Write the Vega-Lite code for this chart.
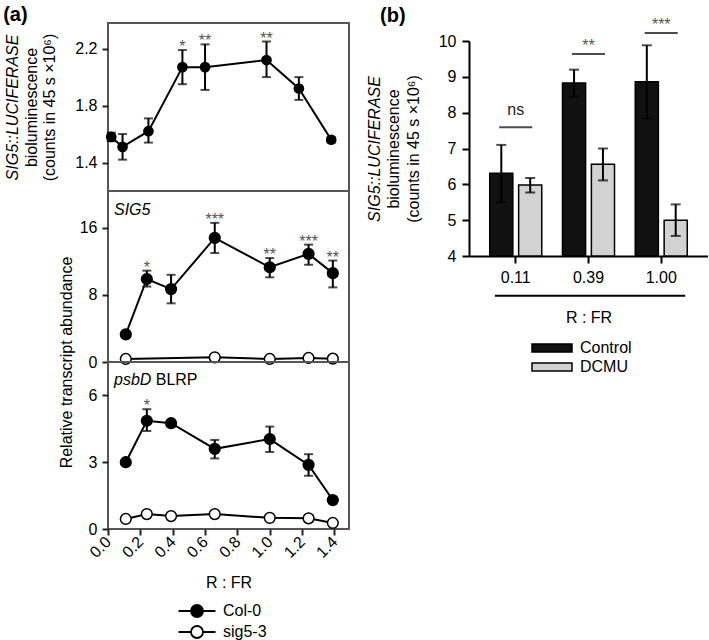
{
  "$schema": "https://vega.github.io/schema/vega-lite/v6.json",
  "padding": {"left": 2, "top": 4, "right": 0, "bottom": 0},
  "config": {
    "font": "Liberation Sans",
    "view": {"stroke": "#555555", "strokeWidth": 2},
    "axis": {"labelFontSize": 16, "titleFontSize": 16, "titleFontWeight": "normal", "labelColor": "black", "titleColor": "black", "tickColor": "#222222", "domainColor": "black", "grid": false, "labelFont": "Liberation Sans", "titleFont": "Liberation Sans", "tickWidth": 2, "domainWidth": 2, "labelOverlap": false},
    "legend": {"labelFontSize": 16, "labelFont": "Liberation Sans", "labelColor": "black"},
    "title": {"font": "Liberation Sans", "color": "black"}
  },
  "datasets": {
    "p1": [
      {"x": 0.02, "m": 1.58, "lo": 1.55, "hi": 1.61},
      {"x": 0.09, "m": 1.51, "lo": 1.42, "hi": 1.60},
      {"x": 0.25, "m": 1.62, "lo": 1.54, "hi": 1.71},
      {"x": 0.46, "m": 2.07, "lo": 1.95, "hi": 2.19, "sig": "*"},
      {"x": 0.60, "m": 2.07, "lo": 1.91, "hi": 2.23, "sig": "**"},
      {"x": 0.98, "m": 2.12, "lo": 2.00, "hi": 2.25, "sig": "**"},
      {"x": 1.18, "m": 1.92, "lo": 1.84, "hi": 2.00},
      {"x": 1.38, "m": 1.56, "lo": 1.54, "hi": 1.58}
    ],
    "p2": [
      {"g": "Col-0", "x": 0.11, "m": 3.3, "lo": 3.0, "hi": 3.6},
      {"g": "Col-0", "x": 0.24, "m": 9.9, "lo": 9.0, "hi": 10.9, "sig": "*"},
      {"g": "Col-0", "x": 0.39, "m": 8.7, "lo": 7.0, "hi": 10.4},
      {"g": "Col-0", "x": 0.66, "m": 14.8, "lo": 13.0, "hi": 16.6, "sig": "***"},
      {"g": "Col-0", "x": 1.00, "m": 11.3, "lo": 10.1, "hi": 12.4, "sig": "**"},
      {"g": "Col-0", "x": 1.24, "m": 12.9, "lo": 11.6, "hi": 14.0, "sig": "***"},
      {"g": "Col-0", "x": 1.39, "m": 10.6, "lo": 8.9, "hi": 12.1, "sig": "**"},
      {"g": "sig5-3", "x": 0.11, "m": 0.36},
      {"g": "sig5-3", "x": 0.66, "m": 0.56},
      {"g": "sig5-3", "x": 1.00, "m": 0.36},
      {"g": "sig5-3", "x": 1.24, "m": 0.48},
      {"g": "sig5-3", "x": 1.39, "m": 0.40}
    ],
    "p3": [
      {"g": "Col-0", "x": 0.11, "m": 3.0, "lo": 2.9, "hi": 3.1},
      {"g": "Col-0", "x": 0.24, "m": 4.86, "lo": 4.4, "hi": 5.38, "sig": "*"},
      {"g": "Col-0", "x": 0.39, "m": 4.75, "lo": 4.6, "hi": 4.9},
      {"g": "Col-0", "x": 0.66, "m": 3.6, "lo": 3.17, "hi": 4.0},
      {"g": "Col-0", "x": 1.00, "m": 4.04, "lo": 3.46, "hi": 4.6},
      {"g": "Col-0", "x": 1.24, "m": 2.88, "lo": 2.39, "hi": 3.36},
      {"g": "Col-0", "x": 1.39, "m": 1.3, "lo": 1.25, "hi": 1.35},
      {"g": "sig5-3", "x": 0.11, "m": 0.45},
      {"g": "sig5-3", "x": 0.24, "m": 0.67},
      {"g": "sig5-3", "x": 0.39, "m": 0.58},
      {"g": "sig5-3", "x": 0.66, "m": 0.67},
      {"g": "sig5-3", "x": 1.00, "m": 0.50},
      {"g": "sig5-3", "x": 1.24, "m": 0.48},
      {"g": "sig5-3", "x": 1.39, "m": 0.27}
    ],
    "bars": [
      {"R": "0.11", "trt": "Control", "m": 6.31, "lo": 5.5, "hi": 7.1},
      {"R": "0.11", "trt": "DCMU", "m": 5.98, "lo": 5.77, "hi": 6.18},
      {"R": "0.39", "trt": "Control", "m": 8.83, "lo": 8.45, "hi": 9.2},
      {"R": "0.39", "trt": "DCMU", "m": 6.56, "lo": 6.11, "hi": 7.0},
      {"R": "1.00", "trt": "Control", "m": 8.86, "lo": 7.84, "hi": 9.88},
      {"R": "1.00", "trt": "DCMU", "m": 5.0, "lo": 4.56, "hi": 5.44}
    ],
    "sigb": [
      {"R": "0.11", "ly": 7.59, "lab": "ns"},
      {"R": "0.39", "ly": 9.64, "lab": "**"},
      {"R": "1.00", "ly": 10.22, "lab": "***"}
    ]
  },
  "spacing": 15,
  "resolve": {"scale": {"color": "independent", "fill": "independent"}, "legend": {"color": "independent", "fill": "independent"}},
  "hconcat": [
    {
      "spacing": 0,
      "bounds": "flush",
      "resolve": {"legend": {"fill": "independent"}},
      "vconcat": [
        {
          "width": 241, "height": 168,
          "data": {"name": "p1"},
          "layer": [
            {"mark": {"type": "line", "color": "black", "strokeWidth": 2},
             "encoding": {
               "x": {"field": "x", "type": "quantitative", "scale": {"domain": [0, 1.49], "nice": false, "zero": false}, "axis": null},
               "y": {"field": "m", "type": "quantitative", "scale": {"domain": [1.2, 2.38], "nice": false, "zero": false},
               "axis": {"values": [1.4, 1.8, 2.2], "format": ".1f", "domain": false, "tickSize": 6, "labelPadding": 5, "title": ["bioluminescence", "(counts in 45 s ×10⁶)"], "titleX": -77, "titleY": 84, "titleAngle": -90, "titleAlign": "center", "titleBaseline": "middle", "titleLineHeight": 18}}}},
            {"mark": {"type": "rule", "color": "black", "strokeWidth": 2},
             "encoding": {"x": {"field": "x", "type": "quantitative"}, "y": {"field": "lo", "type": "quantitative", "axis": null}, "y2": {"field": "hi"}}},
            {"mark": {"type": "tick", "orient": "horizontal", "color": "black", "size": 9, "thickness": 2},
             "encoding": {"x": {"field": "x", "type": "quantitative"}, "y": {"field": "lo", "type": "quantitative", "axis": null}}},
            {"mark": {"type": "tick", "orient": "horizontal", "color": "black", "size": 9, "thickness": 2},
             "encoding": {"x": {"field": "x", "type": "quantitative"}, "y": {"field": "hi", "type": "quantitative", "axis": null}}},
            {"mark": {"type": "point", "filled": true, "color": "black", "size": 115, "opacity": 1},
             "encoding": {"x": {"field": "x", "type": "quantitative"}, "y": {"field": "m", "type": "quantitative", "axis": null}}},
            {"transform": [{"filter": "datum.sig"}],
             "mark": {"type": "text", "color": "#555555", "fontSize": 16, "baseline": "alphabetic", "dy": 2},
             "encoding": {"x": {"field": "x", "type": "quantitative"}, "y": {"field": "hi", "type": "quantitative",
               "axis": {"orient": "left", "title": "SIG5::LUCIFERASE", "titleFontStyle": "italic", "labels": false, "ticks": false, "domain": false, "titleX": -96, "titleY": 84, "titleAngle": -90, "titleAlign": "center", "titleBaseline": "middle"}},
               "text": {"field": "sig"}}},
            {"data": {"values": [{}]},
             "mark": {"type": "text", "text": "(a)", "fontSize": 20, "fontWeight": "bold", "align": "left", "baseline": "alphabetic", "clip": false},
             "encoding": {"x": {"datum": -0.648}, "y": {"datum": 2.394, "axis": null}}}
          ],
          "resolve": {"axis": {"y": "independent"}}
        },
        {
          "width": 241, "height": 171,
          "data": {"name": "p2"},
          "layer": [
            {"mark": {"type": "line", "color": "black", "strokeWidth": 2},
             "encoding": {"detail": {"field": "g"},
               "x": {"field": "x", "type": "quantitative", "scale": {"domain": [0, 1.49], "nice": false, "zero": false}, "axis": null},
               "y": {"field": "m", "type": "quantitative", "scale": {"domain": [0, 20.4], "nice": false, "zero": false},
               "axis": {"values": [0, 8, 16], "domain": false, "tickSize": 6, "labelPadding": 5, "title": null}}}},
            {"mark": {"type": "rule", "color": "black", "strokeWidth": 2},
             "encoding": {"x": {"field": "x", "type": "quantitative"}, "y": {"field": "lo", "type": "quantitative"}, "y2": {"field": "hi"}}},
            {"mark": {"type": "tick", "orient": "horizontal", "color": "black", "size": 9, "thickness": 2},
             "encoding": {"x": {"field": "x", "type": "quantitative"}, "y": {"field": "lo", "type": "quantitative"}}},
            {"mark": {"type": "tick", "orient": "horizontal", "color": "black", "size": 9, "thickness": 2},
             "encoding": {"x": {"field": "x", "type": "quantitative"}, "y": {"field": "hi", "type": "quantitative"}}},
            {"mark": {"type": "point", "stroke": "black", "strokeWidth": 1.5, "size": 115, "opacity": 1},
             "encoding": {"x": {"field": "x", "type": "quantitative"}, "y": {"field": "m", "type": "quantitative"},
               "fill": {"field": "g", "type": "nominal", "scale": {"domain": ["Col-0", "sig5-3"], "range": ["black", "white"]}, "legend": null}}},
            {"transform": [{"filter": "datum.sig"}],
             "mark": {"type": "text", "color": "#555555", "fontSize": 16, "baseline": "alphabetic", "dy": 2},
             "encoding": {"x": {"field": "x", "type": "quantitative"}, "y": {"field": "hi", "type": "quantitative"}, "text": {"field": "sig"}}},
            {"data": {"values": [{}]},
             "mark": {"type": "text", "text": "SIG5", "fontStyle": "italic", "fontSize": 16, "align": "left", "baseline": "alphabetic"},
             "encoding": {"x": {"datum": 0.037}, "y": {"datum": 17.48}}}
          ]
        },
        {
          "width": 241, "height": 167,
          "data": {"name": "p3"},
          "layer": [
            {"mark": {"type": "line", "color": "black", "strokeWidth": 2},
             "encoding": {"detail": {"field": "g"},
               "x": {"field": "x", "type": "quantitative", "scale": {"domain": [0, 1.49], "nice": false, "zero": false},
                 "axis": {"values": [0, 0.2, 0.4, 0.6, 0.8, 1.0, 1.2, 1.4], "format": ".1f", "domain": false, "tickSize": 6, "labelPadding": 4, "labelAngle": -45, "labelAlign": "right", "labelBaseline": "middle", "labelOverlap": false, "labelBound": false, "labelFlush": false, "title": "R : FR", "titleY": 53, "titleBaseline": "middle"}},
               "y": {"field": "m", "type": "quantitative", "scale": {"domain": [0, 7.5], "nice": false, "zero": false},
               "axis": {"values": [0, 3, 6], "domain": false, "tickSize": 6, "labelPadding": 5, "title": "Relative transcript abundance", "titleX": -41.5, "titleY": 0, "titleAngle": -90, "titleAlign": "center", "titleBaseline": "middle"}}}},
            {"mark": {"type": "rule", "color": "black", "strokeWidth": 2},
             "encoding": {"x": {"field": "x", "type": "quantitative", "axis": {"values": [0, 0.2, 0.4, 0.6, 0.8, 1.0, 1.2, 1.4], "format": ".1f", "domain": false, "tickSize": 6, "labelPadding": 4, "labelAngle": -45, "labelAlign": "right", "labelBaseline": "middle", "labelOverlap": false, "labelBound": false, "labelFlush": false, "title": "R : FR", "titleY": 53, "titleBaseline": "middle"}}, "y": {"field": "lo", "type": "quantitative"}, "y2": {"field": "hi"}}},
            {"mark": {"type": "tick", "orient": "horizontal", "color": "black", "size": 9, "thickness": 2},
             "encoding": {"x": {"field": "x", "type": "quantitative", "axis": {"values": [0, 0.2, 0.4, 0.6, 0.8, 1.0, 1.2, 1.4], "format": ".1f", "domain": false, "tickSize": 6, "labelPadding": 4, "labelAngle": -45, "labelAlign": "right", "labelBaseline": "middle", "labelOverlap": false, "labelBound": false, "labelFlush": false, "title": "R : FR", "titleY": 53, "titleBaseline": "middle"}}, "y": {"field": "lo", "type": "quantitative"}}},
            {"mark": {"type": "tick", "orient": "horizontal", "color": "black", "size": 9, "thickness": 2},
             "encoding": {"x": {"field": "x", "type": "quantitative", "axis": {"values": [0, 0.2, 0.4, 0.6, 0.8, 1.0, 1.2, 1.4], "format": ".1f", "domain": false, "tickSize": 6, "labelPadding": 4, "labelAngle": -45, "labelAlign": "right", "labelBaseline": "middle", "labelOverlap": false, "labelBound": false, "labelFlush": false, "title": "R : FR", "titleY": 53, "titleBaseline": "middle"}}, "y": {"field": "hi", "type": "quantitative"}}},
            {"mark": {"type": "point", "stroke": "black", "strokeWidth": 1.5, "size": 115, "opacity": 1},
             "encoding": {"x": {"field": "x", "type": "quantitative", "axis": {"values": [0, 0.2, 0.4, 0.6, 0.8, 1.0, 1.2, 1.4], "format": ".1f", "domain": false, "tickSize": 6, "labelPadding": 4, "labelAngle": -45, "labelAlign": "right", "labelBaseline": "middle", "labelOverlap": false, "labelBound": false, "labelFlush": false, "title": "R : FR", "titleY": 53, "titleBaseline": "middle"}}, "y": {"field": "m", "type": "quantitative"},
               "fill": {"field": "g", "type": "nominal", "scale": {"domain": ["Col-0", "sig5-3"], "range": ["black", "white"]},
                 "legend": {"orient": "none", "legendX": 78, "legendY": 238, "title": null, "symbolType": "M-1.85,0H-0.6M0.6,0H1.85M-0.6,0A0.6,0.6 0 1,0 0.6,0A0.6,0.6 0 1,0 -0.6,0Z", "symbolSize": 400, "symbolStrokeColor": "black", "symbolStrokeWidth": 1.8, "labelOffset": 15, "rowPadding": -1, "padding": 0, "labelFontSize": 16}}}},
            {"transform": [{"filter": "datum.sig"}],
             "mark": {"type": "text", "color": "#555555", "fontSize": 16, "baseline": "alphabetic", "dy": 2},
             "encoding": {"x": {"field": "x", "type": "quantitative", "axis": {"values": [0, 0.2, 0.4, 0.6, 0.8, 1.0, 1.2, 1.4], "format": ".1f", "domain": false, "tickSize": 6, "labelPadding": 4, "labelAngle": -45, "labelAlign": "right", "labelBaseline": "middle", "labelOverlap": false, "labelBound": false, "labelFlush": false, "title": "R : FR", "titleY": 53, "titleBaseline": "middle"}}, "y": {"field": "hi", "type": "quantitative"}, "text": {"field": "sig"}}},
            {"data": {"values": [{}]},
             "mark": {"type": "text", "text": "psbD", "fontStyle": "italic", "fontSize": 16, "align": "left", "baseline": "alphabetic"},
             "encoding": {"x": {"datum": 0.037, "axis": {"values": [0, 0.2, 0.4, 0.6, 0.8, 1.0, 1.2, 1.4], "format": ".1f", "domain": false, "tickSize": 6, "labelPadding": 4, "labelAngle": -45, "labelAlign": "right", "labelBaseline": "middle", "labelOverlap": false, "labelBound": false, "labelFlush": false, "title": "R : FR", "titleY": 53, "titleBaseline": "middle"}}, "y": {"datum": 6.47}}},
            {"data": {"values": [{}]},
             "mark": {"type": "text", "text": "BLRP", "fontSize": 16, "align": "left", "baseline": "alphabetic"},
             "encoding": {"x": {"datum": 0.295, "axis": {"values": [0, 0.2, 0.4, 0.6, 0.8, 1.0, 1.2, 1.4], "format": ".1f", "domain": false, "tickSize": 6, "labelPadding": 4, "labelAngle": -45, "labelAlign": "right", "labelBaseline": "middle", "labelOverlap": false, "labelBound": false, "labelFlush": false, "title": "R : FR", "titleY": 53, "titleBaseline": "middle"}}, "y": {"datum": 6.47}}}
          ]
        }
      ]
    },
    {
      "spacing": 0,
      "bounds": "flush",
      "vconcat": [
        {
          "width": 239, "height": 18,
          "view": {"stroke": null},
          "data": {"values": [{}]},
          "mark": {"type": "point", "opacity": 0},
          "title": {"text": "(b)", "anchor": "start", "frame": "group", "fontSize": 20, "fontWeight": "bold", "baseline": "alphabetic", "offset": -19, "dx": -89}
        },
        {
          "width": 239, "height": 215,
          "view": {"stroke": null},
          "data": {"name": "bars"},
          "layer": [
            {"mark": {"type": "bar", "stroke": "black", "strokeWidth": 1.5},
             "encoding": {
               "x": {"field": "R", "type": "nominal", "scale": {"paddingInner": 0.285, "paddingOuter": 0.285},
                 "axis": {"title": "R : FR", "labelAngle": 0, "tickSize": 7, "labelPadding": 6, "titleY": 61, "titleBaseline": "middle", "domainColor": "black", "tickColor": "black"}},
               "xOffset": {"field": "trt", "type": "nominal", "scale": {"paddingInner": 0.2, "paddingOuter": 0}},
               "y": {"field": "m", "type": "quantitative", "scale": {"domain": [4, 10], "nice": false, "zero": false},
                 "axis": {"values": [4, 5, 6, 7, 8, 9, 10], "tickSize": 7, "labelPadding": 6, "domainColor": "black", "tickColor": "black", "title": ["bioluminescence", "(counts in 45 s ×10⁶)"], "titleX": -76, "titleY": 107.5, "titleAngle": -90, "titleAlign": "center", "titleBaseline": "middle", "titleLineHeight": 20.5}},
               "y2": {"datum": 4},
               "color": {"field": "trt", "type": "nominal", "scale": {"domain": ["Control", "DCMU"], "range": ["#111111", "#d2d2d2"]},
                 "legend": {"orient": "none", "legendX": 72, "legendY": 314, "title": null, "symbolType": "M-2,-0.4H2V0.4H-2Z", "symbolSize": 400, "symbolStrokeColor": "black", "symbolStrokeWidth": 1.5, "labelOffset": 17, "rowPadding": -5, "padding": 0, "labelFontSize": 16}}
             }},
            {"mark": {"type": "rule", "color": "black", "strokeWidth": 2},
             "encoding": {"x": {"field": "R", "type": "nominal"}, "xOffset": {"field": "trt", "type": "nominal"}, "y": {"field": "lo", "type": "quantitative", "axis": null}, "y2": {"field": "hi"}}},
            {"mark": {"type": "tick", "orient": "horizontal", "color": "black", "size": 10, "thickness": 2},
             "encoding": {"x": {"field": "R", "type": "nominal"}, "xOffset": {"field": "trt", "type": "nominal"}, "y": {"field": "lo", "type": "quantitative", "axis": null}}},
            {"mark": {"type": "tick", "orient": "horizontal", "color": "black", "size": 10, "thickness": 2},
             "encoding": {"x": {"field": "R", "type": "nominal"}, "xOffset": {"field": "trt", "type": "nominal"}, "y": {"field": "hi", "type": "quantitative", "axis": null}}},
            {"data": {"name": "sigb"},
             "mark": {"type": "tick", "orient": "horizontal", "color": "black", "size": 33, "thickness": 2, "clip": false},
             "encoding": {"x": {"field": "R", "type": "nominal"}, "y": {"field": "ly", "type": "quantitative", "axis": null}}},
            {"data": {"name": "sigb"}, "transform": [{"filter": "datum.lab == 'ns'"}],
             "mark": {"type": "text", "fontSize": 16, "color": "#222222", "baseline": "alphabetic", "dy": -12, "clip": false},
             "encoding": {"x": {"field": "R", "type": "nominal"},
               "y": {"field": "ly", "type": "quantitative",
                 "axis": {"orient": "left", "title": "SIG5::LUCIFERASE", "titleFontStyle": "italic", "labels": false, "ticks": false, "domain": false, "titleX": -95, "titleY": 107.5, "titleAngle": -90, "titleAlign": "center", "titleBaseline": "middle"}},
               "text": {"field": "lab"}}},
            {"data": {"name": "sigb"}, "transform": [{"filter": "datum.lab != 'ns'"}],
             "mark": {"type": "text", "fontSize": 16, "color": "#555555", "baseline": "alphabetic", "dy": -3, "clip": false},
             "encoding": {"x": {"field": "R", "type": "nominal"}, "y": {"field": "ly", "type": "quantitative", "axis": null}, "text": {"field": "lab"}}},
            {"data": {"values": [{}]},
             "mark": {"type": "rule", "color": "black", "strokeWidth": 2, "clip": false},
             "encoding": {"x": {"datum": "0.11", "bandPosition": 0.1}, "x2": {"datum": "1.00", "bandPosition": 0.96}, "y": {"datum": 2.89, "axis": null}}}
          ],
          "resolve": {"axis": {"y": "independent"}}
        }
      ]
    }
  ]
}
